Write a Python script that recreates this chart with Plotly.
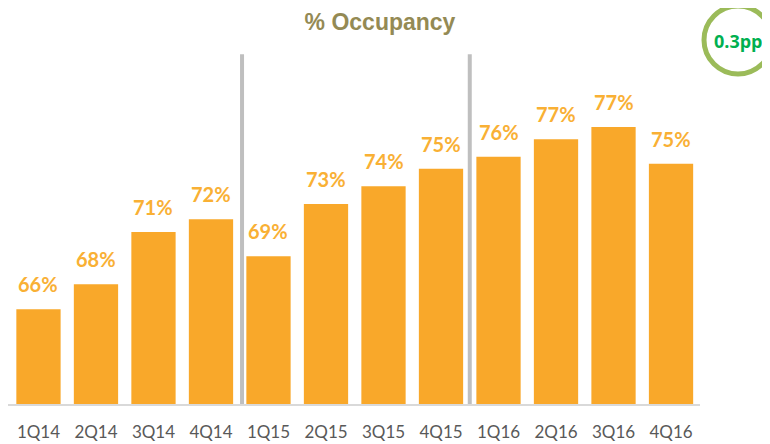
import plotly.graph_objects as go

quarters = ["1Q14", "2Q14", "3Q14", "4Q14", "1Q15", "2Q15", "3Q15", "4Q15",
            "1Q16", "2Q16", "3Q16", "4Q16"]
occupancy = [65.96, 67.53, 70.82, 71.62, 69.29, 72.58, 73.69, 74.80,
             75.55, 76.65, 77.42, 75.11]
labels = ["66%", "68%", "71%", "72%", "69%", "73%", "74%", "75%",
          "76%", "77%", "77%", "75%"]
year_breaks = [3.54, 7.50]
change_text = "0.3pp"

BAR = "#F9A82A"
LABEL = "#F9B034"

# page body has an 8px margin, so the figure is drawn 8px smaller/offset
W, H = 762, 436
PL, PR, PT, PB = 0, 70, 42, 40
PW, PH = W - PL - PR, H - PT - PB

fig = go.Figure()
fig.add_trace(go.Bar(
    x=list(range(len(quarters))), y=occupancy,
    marker=dict(color=BAR, line=dict(width=0)),
    width=0.77, hoverinfo="skip", showlegend=False,
))

for i, (v, t) in enumerate(zip(occupancy, labels)):
    fig.add_annotation(x=i, y=v, text=f"<b>{t}</b>", showarrow=False,
                       yanchor="middle", yshift=25,
                       font=dict(family="Lato", size=20, color=LABEL))

for b in year_breaks:
    fig.add_shape(type="line", xref="x", yref="y", x0=b, x1=b,
                  y0=60, y1=82.0, line=dict(color="#BFBFBF", width=4))

fig.add_shape(type="circle", xref="paper", yref="paper",
              xsizemode="pixel", ysizemode="pixel",
              xanchor=730 / PW, yanchor=(PH - (32 - PT)) / PH,
              x0=-34, x1=34, y0=-34, y1=34,
              line=dict(color="#9BBB59", width=5))
fig.add_annotation(xref="paper", yref="paper", x=731 / PW, y=(PH - (33 - PT)) / PH,
                   xanchor="center", yanchor="middle",
                   text=f"<b>{change_text}</b>", showarrow=False,
                   font=dict(family="Open Sans", size=18, color="#00B050"))

fig.update_layout(
    width=W, height=H,
    margin=dict(l=PL, r=PR, t=PT, b=PB),
    paper_bgcolor="white", plot_bgcolor="white",
    title=dict(text="<b>% Occupancy</b>", x=372 / W, xanchor="center",
               y=1 - 14 / H, yanchor="middle",
               font=dict(family="Liberation Sans", size=23, color="#948A54")),
    xaxis=dict(range=[-0.53, 11.504], tickmode="array",
               tickvals=list(range(len(quarters))), ticktext=quarters,
               showgrid=False, zeroline=False, showline=True,
               linecolor="#D9D9D9", linewidth=1.5, ticks="",
               ticklabelstandoff=12,
               tickfont=dict(family="Lato", size=17, color="#595959")),
    yaxis=dict(range=[60, 82.26], visible=False, showgrid=False),
)

fig.write_html("out.html")
